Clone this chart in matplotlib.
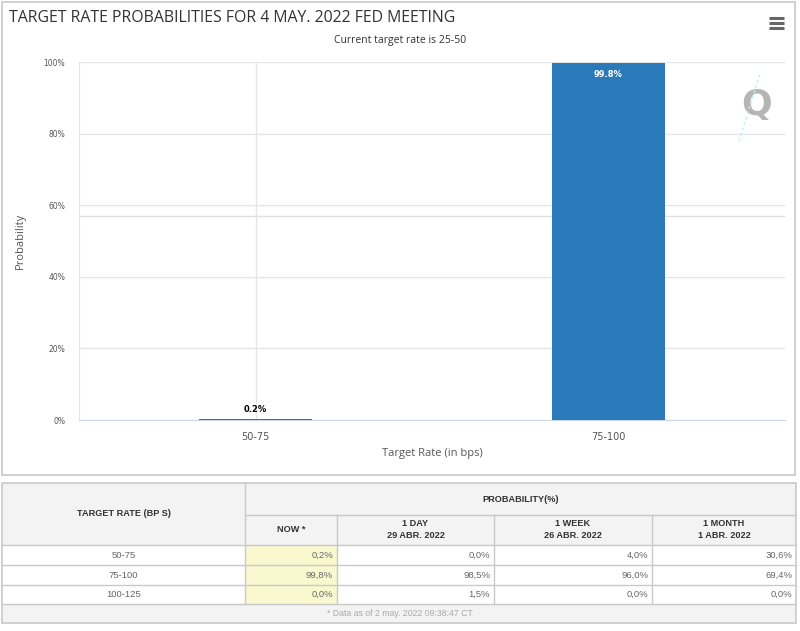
import matplotlib
matplotlib.use("Agg")
import matplotlib.pyplot as plt
from matplotlib.patches import Rectangle

# chart data
categories = ["50-75", "75-100"]
probabilities = [0.2, 99.8]
y_ticks = [0, 20, 40, 60, 80, 100]

# table data
table_rates = ["50-75", "75-100", "100-125"]
now_vals = ["0,2%", "99,8%", "0,0%"]
day_vals = ["0,0%", "98,5%", "1,5%"]
week_vals = ["4,0%", "96,0%", "0,0%"]
month_vals = ["30,6%", "69,4%", "0,0%"]
col_heads = [("NOW", ""), ("1 DAY", "29 ABR. 2022"), ("1 WEEK", "26 ABR. 2022"),
             ("1 MONTH", "1 ABR. 2022")]

W, H = 800, 631
fig = plt.figure(figsize=(8, 6.31), dpi=100)
fig.patch.set_facecolor("white")

# overlay in pixel coordinates for frame, title and table
ov = fig.add_axes([0, 0, 1, 1])
ov.set_xlim(0, W)
ov.set_ylim(H, 0)
ov.axis("off")

# chart panel border
ov.add_patch(Rectangle((2, 2), 793, 473, fill=False, ec="#c8c8c8", lw=1.2))

ov.text(9, 18, "TARGET RATE PROBABILITIES FOR 4 MAY. 2022 FED MEETING",
        fontsize=11.4, color="#333333", family="Open Sans", va="center")
ov.text(400, 41, "Current target rate is 25-50", fontsize=7.5, color="#333333",
        family="Open Sans", ha="center", va="center")

# menu icon
for yy in (18, 23, 28):
    ov.plot([769, 784], [yy, yy], color="#666666", lw=2.2, solid_capstyle="butt")

# chart axes
ax = fig.add_axes([79 / W, 1 - 420 / H, 706 / W, 358 / H])
x = list(range(len(categories)))
ax.bar(x, probabilities, width=0.32, color="#2a7ab9", zorder=3)
ax.set_xlim(-0.5, len(categories) - 0.5)
ax.set_ylim(0, 100)
ax.set_yticks(y_ticks)
ax.set_yticklabels([f"{t}%" for t in y_ticks], fontsize=5.5, color="#555555")
ax.set_xticks(x)
ax.set_xticklabels(categories, fontsize=7, color="#555555")
ax.tick_params(length=0)
ax.tick_params(axis="y", pad=10)
ax.tick_params(axis="x", pad=9)
ax.grid(True, color="#e6e6e6", lw=1, zorder=0)
for s in ("top", "right"):
    ax.spines[s].set_visible(False)
ax.spines["left"].set_color("#e6e6e6")
ax.spines["bottom"].set_color("#ccd6eb")
ax.axhline(57, color="#e0e0e0", lw=1, zorder=1)
ax.set_ylabel("Probability", fontsize=8, color="#555555", family="Open Sans")
ax.yaxis.set_label_coords((26 - 79) / 706, 0.5)
ax.set_xlabel("Target Rate (in bps)", fontsize=8, color="#555555", family="Open Sans",
              labelpad=4)

for xi, v in zip(x, probabilities):
    if v > 50:
        ax.text(xi, v - 2, f"{v}%", ha="center", va="top", fontsize=6,
                color="white", fontweight="bold", zorder=5)
    else:
        ax.text(xi, v + 1.5, f"{v}%", ha="center", va="bottom", fontsize=6,
                color="black", fontweight="bold", zorder=5)

# watermark
ax.text(0.96, 0.88, "Q", transform=ax.transAxes, fontsize=26, color="#b5b5b5",
        fontweight="bold", ha="center", va="center", zorder=4)
ax.plot([0.935, 0.965], [0.78, 0.97], transform=ax.transAxes, color="#bfeefa",
        lw=1, ls=(0, (2, 2)), zorder=4)

# table
tx0, tx1 = 2, 796
cols = [tx0, 245, 337, 494, 652, tx1]
ty_top, ty_h1, ty_h2 = 483, 515, 545
rows = [545, 565, 585, 604]
ty_bot = 623
grid_c = "#c9c9c9"
tf = "Liberation Sans"

ov.add_patch(Rectangle((tx0, ty_top), tx1 - tx0, ty_h2 - ty_top, fc="#f3f3f3", ec="none"))
ov.add_patch(Rectangle((tx0, rows[-1]), tx1 - tx0, ty_bot - rows[-1], fc="#f3f3f3", ec="none"))
ov.add_patch(Rectangle((cols[1], rows[0]), cols[2] - cols[1], rows[-1] - rows[0],
                       fc="#faf8cf", ec="none"))
ov.add_patch(Rectangle((tx0, ty_top), tx1 - tx0, ty_bot - ty_top, fill=False, ec=grid_c, lw=1.2))

# lines
ov.plot([cols[1], tx1], [ty_h1, ty_h1], color=grid_c, lw=1)
for yy in rows:
    ov.plot([tx0, tx1], [yy, yy], color=grid_c, lw=1)
ov.plot([cols[1], cols[1]], [ty_top, rows[-1]], color=grid_c, lw=1)
for cx in cols[2:-1]:
    ov.plot([cx, cx], [ty_h1, rows[-1]], color=grid_c, lw=1)

hs = 6.6
ov.text((cols[0] + cols[1]) / 2, (ty_top + ty_h2) / 2, "TARGET RATE (BP S)", fontsize=hs,
        fontweight="bold", color="#333333", family=tf, ha="center", va="center")
ov.text((cols[1] + tx1) / 2, (ty_top + ty_h1) / 2, "PROBABILITY(%)", fontsize=hs,
        fontweight="bold", color="#333333", family=tf, ha="center", va="center")
for i, (a, b) in enumerate(col_heads):
    cx = (cols[i + 1] + cols[i + 2]) / 2
    if b:
        ov.text(cx, 524, a, fontsize=hs, fontweight="bold", color="#333333", family=tf,
                ha="center", va="center")
        ov.text(cx, 535, b, fontsize=hs, fontweight="bold", color="#333333", family=tf,
                ha="center", va="center")
    else:
        ov.text(cx, 530, a + " *", fontsize=hs, fontweight="bold", color="#333333", family=tf,
                ha="center", va="center")

for r, rate in enumerate(table_rates):
    cy = (rows[r] + rows[r + 1]) / 2
    ov.text((cols[0] + cols[1]) / 2, cy, rate, fontsize=6.8, color="#666666", family=tf,
            ha="center", va="center")
    for c, vals in enumerate([now_vals, day_vals, week_vals, month_vals]):
        ov.text(cols[c + 2] - 4, cy, vals[r], fontsize=6.8, color="#666666", family=tf,
                ha="right", va="center")

ov.text(400, (rows[-1] + ty_bot) / 2, "* Data as of 2 may. 2022 09:38:47 CT", fontsize=6.3,
        color="#aaaaaa", family=tf, ha="center", va="center")

fig.savefig("out.png", dpi=100, facecolor="white")
